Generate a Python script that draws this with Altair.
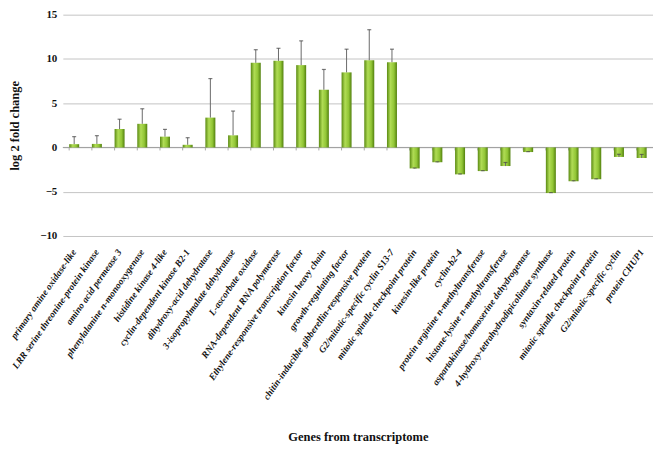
import json
import altair as alt
import pandas as pd

genes = [
    "primary amine oxidase-like",
    "LRR serine threonine-protein kinase",
    "amino acid permease 3",
    "phenylalanine n-monooxygenase",
    "histidine kinase 4-like",
    "cyclin-dependent kinase B2-1",
    "dihydroxy-acid dehydratase",
    "3-isopropylmalate dehydratase",
    "L-ascorbate oxidase",
    "RNA-dependent RNA polymerase",
    "Ethylene-responsive transcription factor",
    "kinesin heavy chain",
    "growth-regulating factor",
    "chitin-inducible gibberellin-responsive protein",
    "G2/mitotic-specific cyclin S13-7",
    "mitotic spindle checkpoint protein",
    "kinesin-like protein",
    "cyclin-b2-4",
    "protein arginine n-methyltransferase",
    "histone-lysine n-methyltransferase",
    "aspartokinase/homoserine dehydrogenase",
    "4-hydroxy-tetrahydrodipicolinate synthase",
    "syntaxin-related protein",
    "mitotic spindle checkpoint protein",
    "G2/mitotic-specific cyclin",
    "protein CHUP1",
]
values = [0.37, 0.4, 2.07, 2.67, 1.22, 0.3, 3.37, 1.37, 9.56, 9.78, 9.3, 6.52,
          8.48, 9.85, 9.63, -2.37, -1.67, -3.04, -2.67, -2.1, -0.52, -5.15,
          -3.81, -3.59, -1.07, -1.19]
errors = [0.85, 0.93, 1.12, 1.7, 0.82, 0.8, 4.41, 2.74, 1.48, 1.42, 2.74, 2.29,
          2.62, 3.45, 1.47, 0.05, 0.05, 0.05, 0.05, 0.4, 0.05, 0.05,
          0.05, 0.05, 0.3, 0.4]
y_ticks = [-10, -5, 0, 5, 10, 15]

df = pd.DataFrame({"idx": list(range(len(genes))), "gene": genes,
                   "value": values, "err": errors})
df["top"] = df["value"] + df["err"]
df["zero"] = 0

label_expr = json.dumps(genes) + "[datum.value]"
FONT = "Liberation Serif"

xscale = alt.Scale(paddingInner=0.56, paddingOuter=0.28)
yscale = alt.Scale(domain=[-10, 15], nice=False)

grad = alt.Gradient(
    gradient="linear", x1=0, x2=1, y1=0, y2=0,
    stops=[alt.GradientStop(color="#5a8a12", offset=0),
           alt.GradientStop(color="#b0dc55", offset=0.35),
           alt.GradientStop(color="#92c636", offset=0.7),
           alt.GradientStop(color="#52800e", offset=1)])

base = alt.Chart(df)

bars = base.mark_bar(color=grad).encode(
    x=alt.X("idx:O", scale=xscale, sort=None,
            axis=alt.Axis(title="Genes from transcriptome", labelExpr=label_expr,
                          labelAngle=305, labelAlign="right", labelBaseline="middle",
                          labelPadding=14, labelFont=FONT, labelFontSize=9.5,
                          labelFontWeight="bold", labelFontStyle="italic",
                          labelColor="#111", labelLimit=400, ticks=False, domain=False,
                          titleFont=FONT, titleFontSize=12.5, titleFontWeight="bold",
                          titleColor="#111", titleY=201, titleBaseline="middle")),
    y=alt.Y("value:Q", scale=yscale,
            axis=alt.Axis(title="log 2 fold change", values=y_ticks, format="d",
                          grid=True, gridColor="#c4c4c4", gridWidth=1,
                          domain=False, ticks=False, labelPadding=6,
                          labelFont=FONT, labelFontSize=11, labelFontWeight="bold",
                          labelColor="#111", titleFont=FONT, titleFontSize=12.5,
                          titleFontWeight="bold", titleColor="#111",
                          titleX=-48, titleBaseline="middle")),
)

zero_ticks = base.mark_rule(color="#aaaaaa", strokeWidth=1, y2Offset=3).encode(
    x=alt.X("idx:O", scale=xscale, sort=None, bandPosition=0),
    y=alt.Y("zero:Q", scale=yscale),
    y2="zero:Q",
)

err_rules = base.mark_rule(color="#6a6a6a", strokeWidth=1).encode(
    x=alt.X("idx:O", scale=xscale, sort=None),
    y=alt.Y("value:Q", scale=yscale),
    y2="top:Q",
)

caps = base.mark_tick(color="#444", thickness=1.2, size=4).encode(
    x=alt.X("idx:O", scale=xscale, sort=None),
    y=alt.Y("top:Q", scale=yscale),
)

zero = alt.Chart(pd.DataFrame({"z": [0]})).mark_rule(color="#a0a0a0", strokeWidth=1).encode(
    y=alt.Y("z:Q", scale=yscale)
)

chart = alt.layer(zero, zero_ticks, bars, err_rules, caps).properties(
    width=592, height=222,
    autosize=alt.AutoSizeParams(type="none"),
    padding={"left": 55, "top": 6, "right": 0, "bottom": 212},
).configure_view(stroke=None)

chart.save("out.html", embed_options={"renderer": "svg", "actions": False})
